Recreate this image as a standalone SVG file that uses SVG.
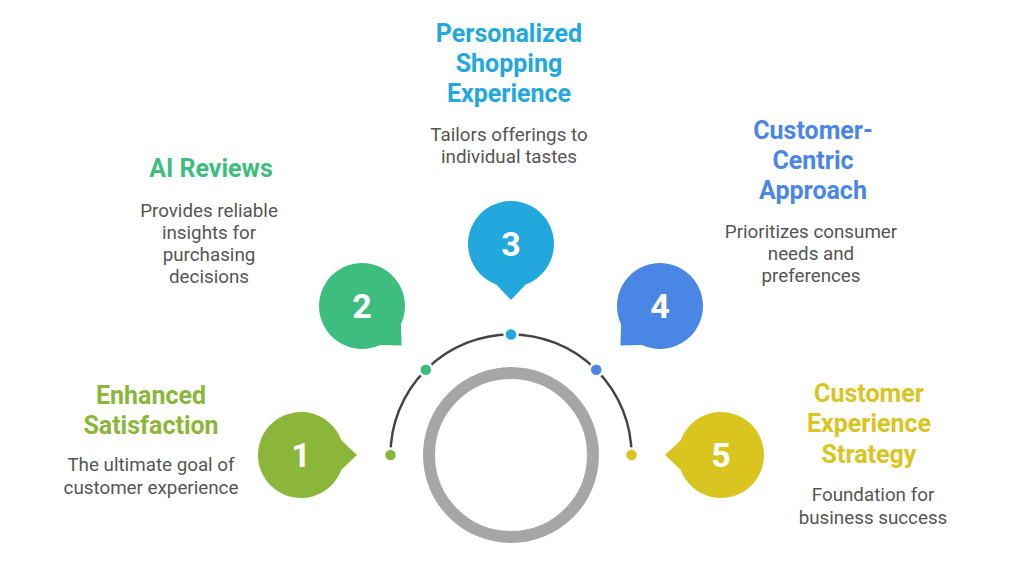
<svg xmlns="http://www.w3.org/2000/svg" width="1024" height="576" viewBox="0 0 1024 576">
<style>
.title{font-family:Roboto,"Liberation Sans",sans-serif;font-weight:700;font-size:25px;text-anchor:middle}
.desc{font-family:Roboto,"Liberation Sans",sans-serif;font-size:18.8px;fill:#555555;text-anchor:middle}
.num{font-family:Roboto,"Liberation Sans",sans-serif;font-weight:700;font-size:34px;fill:#ffffff;text-anchor:middle}
.dot{stroke:#ffffff;stroke-width:2.5}
</style>
<defs>
<path id="bubble" d="M 40.4 -14.7 A 43 43 0 1 0 40.4 14.7 L 56 0 Z"/>
</defs>
<rect width="1024" height="576" fill="#ffffff"/>
<g id="connectors">
<circle cx="511" cy="455" r="82" fill="none" stroke="#a6a6a6" stroke-width="12"/>
<path d="M 390.5 455 A 120.5 120.5 0 0 1 631.5 455" fill="none" stroke="#444444" stroke-width="2.5"/>
<circle class="dot" cx="390.5" cy="455" r="6.5" fill="#8bb63a"/>
<circle class="dot" cx="425.8" cy="369.8" r="6.5" fill="#3dbe7e"/>
<circle class="dot" cx="511" cy="334.5" r="6.5" fill="#22a8dc"/>
<circle class="dot" cx="596.2" cy="369.8" r="6.5" fill="#4a86e4"/>
<circle class="dot" cx="631.5" cy="455" r="6.5" fill="#d9c420"/>
</g>
<g id="node1">
<use href="#bubble" transform="translate(301,455)" fill="#8bb63a"/>
<text class="num" x="301" y="467">1</text>
<text class="title" fill="#8bb63a"><tspan x="151" y="404">Enhanced</tspan><tspan x="151" y="434">Satisfaction</tspan></text>
<text class="desc"><tspan x="151" y="471">The ultimate goal of</tspan><tspan x="151" y="494">customer experience</tspan></text>
</g>
<g id="node2">
<use href="#bubble" transform="translate(362,306) rotate(45)" fill="#3dbe7e"/>
<text class="num" x="362" y="318">2</text>
<text class="title" fill="#3dbe7e"><tspan x="211" y="177">AI Reviews</tspan></text>
<text class="desc"><tspan x="209" y="217">Provides reliable</tspan><tspan x="209" y="239">insights for</tspan><tspan x="209" y="261">purchasing</tspan><tspan x="209" y="283">decisions</tspan></text>
</g>
<g id="node3">
<use href="#bubble" transform="translate(511,244) rotate(90)" fill="#22a8dc"/>
<text class="num" x="511" y="256">3</text>
<text class="title" fill="#22a8dc"><tspan x="509" y="42">Personalized</tspan><tspan x="509" y="72">Shopping</tspan><tspan x="509" y="102">Experience</tspan></text>
<text class="desc"><tspan x="509" y="141">Tailors offerings to</tspan><tspan x="509" y="163">individual tastes</tspan></text>
</g>
<g id="node4">
<use href="#bubble" transform="translate(660,306) rotate(135)" fill="#4a86e4"/>
<text class="num" x="660" y="318">4</text>
<text class="title" fill="#4a86e4"><tspan x="813" y="139">Customer-</tspan><tspan x="813" y="169">Centric</tspan><tspan x="813" y="199">Approach</tspan></text>
<text class="desc"><tspan x="811" y="238">Prioritizes consumer</tspan><tspan x="811" y="260">needs and</tspan><tspan x="811" y="282">preferences</tspan></text>
</g>
<g id="node5">
<use href="#bubble" transform="translate(721,455) rotate(180)" fill="#d9c420"/>
<text class="num" x="721" y="467">5</text>
<text class="title" fill="#d9c420"><tspan x="869" y="402">Customer</tspan><tspan x="869" y="432">Experience</tspan><tspan x="869" y="463">Strategy</tspan></text>
<text class="desc"><tspan x="873" y="501">Foundation for</tspan><tspan x="873" y="524">business success</tspan></text>
</g>
</svg>
